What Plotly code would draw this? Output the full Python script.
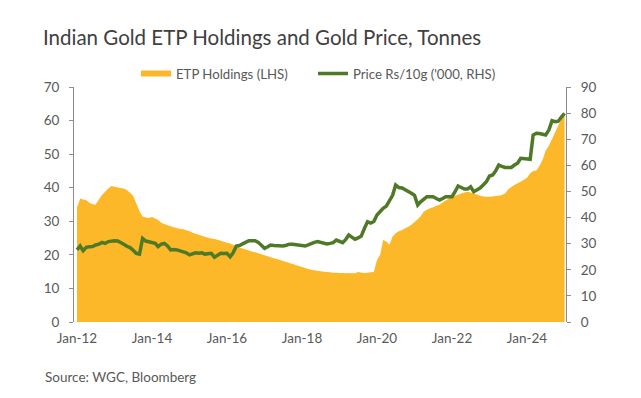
import pandas as pd
import plotly.graph_objects as go

dates = pd.date_range("2012-01-01", "2025-01-01", freq="MS")

etp_holdings = [
    34.0, 36.8, 36.5, 36.3, 35.5, 35.1, 35.0, 36.5, 37.8, 38.8, 39.8, 40.5,
    40.3, 40.1, 39.9, 39.8, 39.3, 38.5, 37.6, 35.3, 33.0, 31.4, 31.1, 31.0,
    31.3, 30.8, 30.4, 29.6, 29.2, 28.8, 28.5, 28.2, 27.9, 27.8, 27.6, 27.3,
    27.0, 26.6, 26.3, 26.0, 25.7, 25.4, 25.1, 24.9, 24.7, 24.5, 24.2, 23.9,
    23.6, 23.4, 23.0, 22.6, 22.2, 21.9, 21.6, 21.3, 21.0, 20.8, 20.5, 20.2,
    19.9, 19.6, 19.3, 19.0, 18.8, 18.5, 18.2, 17.9, 17.6, 17.3, 17.0, 16.7,
    16.4, 16.1, 15.8, 15.6, 15.4, 15.3, 15.1, 15.0, 14.9, 14.8, 14.7, 14.7,
    14.6, 14.6, 14.5, 14.6, 14.5, 14.5, 14.9, 14.7, 14.6, 14.7, 14.8, 14.9,
    18.5, 20.0, 24.4, 24.0, 23.0, 25.5, 26.4, 27.0, 27.4, 27.9, 28.4, 29.0,
    29.8, 30.6, 31.5, 32.9, 33.4, 33.9, 34.2, 34.6, 34.9, 35.6, 36.2, 36.8,
    37.2, 37.6, 37.9, 38.3, 38.6, 38.8, 38.6, 38.3, 38.0, 37.6, 37.4, 37.3,
    37.3, 37.4, 37.5, 37.6, 37.8, 38.3, 39.5, 40.2, 40.8, 41.3, 41.8, 42.4,
    43.0, 44.3, 45.0, 45.1, 46.5, 48.3, 51.0, 52.5, 54.5, 56.5, 58.5, 60.3,
    61.7,
]

gold_price = [
    27.6, 29.1, 27.3, 28.6, 28.8, 28.9, 29.5, 29.8, 30.5, 30.1, 30.8, 31.1,
    31.1, 31.0, 30.5, 29.8, 29.0, 28.5, 27.5, 26.3, 26.0, 32.0, 31.0, 30.8,
    30.3, 30.1, 28.9, 29.8, 30.1, 29.1, 27.6, 27.8, 27.6, 27.3, 26.9, 26.5,
    25.7, 26.2, 26.5, 26.3, 26.5, 26.0, 26.2, 26.3, 24.8, 25.6, 26.3, 26.2,
    26.3, 25.0, 26.5, 29.1, 29.3, 29.9, 30.5, 31.1, 31.1, 31.1, 30.5, 29.2,
    28.2, 28.8, 29.5, 29.3, 29.2, 29.1, 29.1, 29.4, 29.8, 29.8, 29.6, 29.5,
    29.3, 29.1, 29.5, 30.1, 30.5, 30.8, 30.5, 29.9, 29.9, 30.1, 30.4, 31.4,
    30.8, 30.4, 31.5, 33.3, 32.5, 31.7, 32.2, 32.9, 35.9, 38.4, 37.9, 38.5,
    41.0, 42.5, 43.5, 44.4, 46.7, 48.5, 52.5, 51.5, 51.3, 50.7, 50.2, 49.3,
    48.5, 44.8, 46.0, 47.0, 48.0, 48.0, 48.0, 47.3, 46.7, 47.3, 48.0, 48.0,
    48.0, 50.0, 52.1, 51.5, 50.9, 50.9, 51.8, 49.9, 50.5, 51.3, 52.5, 53.7,
    55.9, 56.3, 57.8, 60.1, 59.6, 59.2, 59.2, 59.2, 60.1, 60.8, 62.7, 62.5,
    62.3, 62.3, 71.6, 72.3, 72.2, 71.8, 71.6, 73.5, 77.1, 76.7, 76.9, 78.5,
    79.9,
]

x_tick_vals = ["2012-01-01", "2014-01-01", "2016-01-01", "2018-01-01",
               "2020-01-01", "2022-01-01", "2024-01-01"]
x_tick_text = ["Jan-12", "Jan-14", "Jan-16", "Jan-18", "Jan-20", "Jan-22", "Jan-24"]

FONT = "Lato"
TXT = "#595959"
AXIS = "#8C8C8C"

# plot area in pixels
L, R, T, B = 74, 566, 87, 322
W, H = 641, 398
PH = B - T
PW = R - L

legend_font = dict(family=FONT, size=13.2, color=TXT)

fig = go.Figure()
fig.add_trace(go.Scatter(
    x=dates, y=etp_holdings, name="ETP Holdings (LHS)",
    fill="tozeroy", mode="none", fillcolor="#FCB829", legend="legend",
))
fig.add_trace(go.Scatter(
    x=dates, y=gold_price, name="Price Rs/10g ('000, RHS)",
    mode="lines", line=dict(color="#4E7A27", width=3.5), yaxis="y2",
    legend="legend2",
))

fig.update_layout(
    width=W, height=H,
    margin=dict(l=L, r=W - R, t=T, b=H - B),
    paper_bgcolor="white", plot_bgcolor="white",
    font=dict(family=FONT, size=13.5, color=TXT),
    title=dict(text="Indian Gold ETP Holdings and Gold Price, Tonnes",
               x=43 / W, xanchor="left", y=1 - 38 / H, yanchor="middle",
               font=dict(family=FONT, size=20.5, color="#404040")),
    legend=dict(orientation="h", x=(136 - L) / PW, xanchor="left",
                y=(B - 74) / PH, yanchor="middle",
                font=legend_font, bgcolor="rgba(0,0,0,0)"),
    legend2=dict(orientation="h", x=(313 - L) / PW, xanchor="left",
                 y=(B - 74) / PH, yanchor="middle",
                 font=legend_font, bgcolor="rgba(0,0,0,0)"),
    showlegend=True,
    xaxis=dict(range=["2011-12-03", "2025-01-15"], tickvals=x_tick_vals,
               ticktext=x_tick_text, showgrid=False, zeroline=False,
               showline=False, ticks="", ticklabelstandoff=6),
    yaxis=dict(range=[0, 70], dtick=10, showgrid=False, zeroline=False,
               showline=True, linecolor=AXIS, linewidth=1,
               ticks="outside", ticklen=4, tickcolor=AXIS,
               ticklabelstandoff=7),
    yaxis2=dict(range=[0, 90], dtick=10, overlaying="y", side="right",
                showgrid=False, zeroline=False, showline=True,
                linecolor=AXIS, linewidth=1, ticks="outside", ticklen=4,
                tickcolor=AXIS, ticklabelstandoff=7),
    annotations=[dict(text="Source: WGC, Bloomberg", x=(43 - L) / PW,
                      y=(B - 377) / PH,
                      xref="paper", yref="paper", xanchor="left", yanchor="middle",
                      showarrow=False, font=dict(family=FONT, size=13.5, color=TXT))],
)

fig.write_html("out.html", config={"displayModeBar": False},
               post_script="document.body.style.margin='0';")
